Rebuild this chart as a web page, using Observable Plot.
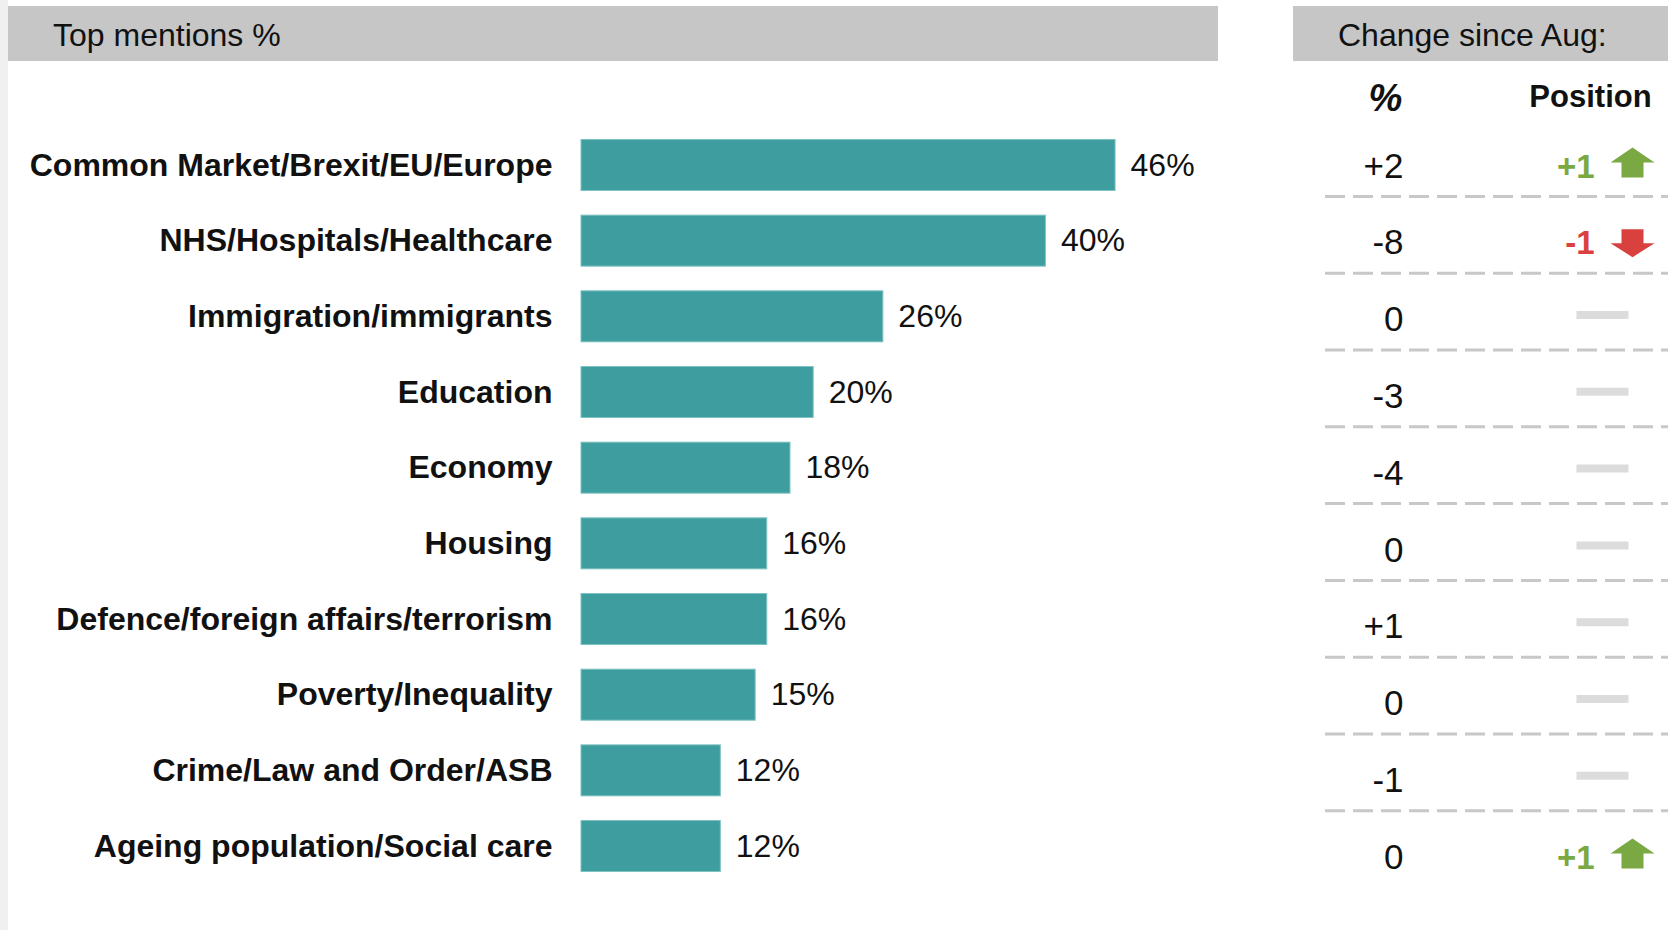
<!DOCTYPE html>
<html><head><meta charset="utf-8">
<script src="https://cdn.jsdelivr.net/npm/d3@7"></script>
<script src="https://cdn.jsdelivr.net/npm/@observablehq/plot@0.6"></script>
<style>
html,body{margin:0;padding:0;background:#fff;}
#wrap{position:relative;width:1668px;height:930px;overflow:hidden;font-family:'Liberation Sans',Arial,Helvetica,sans-serif;color:#111;}
.stripe{position:absolute;left:0;top:0;width:8px;height:930px;background:#f0f0f0;}
.hdr{position:absolute;top:6px;height:55px;line-height:59px;background:#c6c6c6;font-size:32px;color:#111;box-sizing:border-box;padding-left:45px;white-space:nowrap;overflow:hidden;}
#left{position:absolute;left:0;top:0;}
#right{position:absolute;left:1293px;top:0;}
</style></head><body>
<div id="wrap">
  <div class="stripe"></div>
  <div class="hdr" style="left:8px;width:1210px;">Top mentions %</div>
  <div class="hdr" style="left:1293px;width:375px;">Change since Aug:</div>
  <div id="left"></div>
  <div id="right"></div>
</div>
<script>
const categories = [
  "Common Market/Brexit/EU/Europe",
  "NHS/Hospitals/Healthcare",
  "Immigration/immigrants",
  "Education",
  "Economy",
  "Housing",
  "Defence/foreign affairs/terrorism",
  "Poverty/Inequality",
  "Crime/Law and Order/ASB",
  "Ageing population/Social care"
];
const mentions = [46, 40, 26, 20, 18, 16, 16, 15, 12, 12];
const pctChange = [2, -8, 0, -3, -4, 0, 1, 0, -1, 0];
const positionChange = [1, -1, 0, 0, 0, 0, 0, 0, 0, 1];
const columns = ["%", "Position"];

const rows = categories.map((c, i) => ({category: c, value: mentions[i], pct: pctChange[i], pos: positionChange[i]}));
const signed = v => v > 0 ? `+${v}` : `${v}`;

const FONT = "'Liberation Sans', Arial, Helvetica, sans-serif";
const TEAL = "#3e9e9f", GREEN = "#7aa843", RED = "#d9413f", INK = "#111";

const left = Plot.plot({
  width: 1218, height: 930,
  marginLeft: 581, marginRight: 56.5, marginTop: 0, marginBottom: 0,
  style: {fontFamily: FONT, color: INK, background: "transparent", overflow: "visible"},
  x: {domain: [0, 50], axis: null},
  y: {type: "band", domain: categories, range: [114.8, 896.2], padding: 0.326, round: false},
  marks: [
    Plot.barX(rows, {x: "value", y: "category", fill: TEAL, stroke: "#80c2c2", strokeWidth: 1}),
    Plot.text(rows, {x: "value", y: "category", text: d => `${d.value}%`, textAnchor: "start", dx: 15, fontSize: 32, fill: INK}),
    Plot.axisY({tickSize: 0, tickPadding: 29, fontSize: 32, fontWeight: "bold", fill: INK, label: null})
  ]
});
document.getElementById("left").append(left);

const upArrow = {draw(ctx) {
  ctx.moveTo(0, -15); ctx.lineTo(22, 0); ctx.lineTo(11, 0); ctx.lineTo(11, 15);
  ctx.lineTo(-11, 15); ctx.lineTo(-11, 0); ctx.lineTo(-22, 0); ctx.closePath();
}};
const downArrow = {draw(ctx) {
  ctx.moveTo(0, 14); ctx.lineTo(22, 0); ctx.lineTo(11, 0); ctx.lineTo(11, -14);
  ctx.lineTo(-11, -14); ctx.lineTo(-11, 0); ctx.lineTo(-22, 0); ctx.closePath();
}};
const flatBar = {draw(ctx) { ctx.rect(-26, -4, 52, 8); }};

const right = Plot.plot({
  width: 375, height: 930,
  marginLeft: 32, marginRight: 0, marginTop: 0, marginBottom: 0,
  style: {fontFamily: FONT, color: INK, background: "transparent", overflow: "visible"},
  x: {type: "point", domain: columns, range: [92, 297], padding: 0, axis: null},
  y: {type: "band", domain: categories, range: [127.5, 895.5], padding: 0, round: false, axis: null},
  marks: [
    Plot.ruleY(rows.slice(0, 9), {y: "category", stroke: "#c8c8c8", strokeWidth: 3, strokeDasharray: "20,8", dy: 30}),
    Plot.text([columns[0]], {x: d => d, text: d => d, frameAnchor: "top", lineAnchor: "middle", dy: 98, fontSize: 38, fontWeight: "bold", fontStyle: "italic", fill: INK}),
    Plot.text([columns[1]], {x: d => d, text: d => d, frameAnchor: "top", lineAnchor: "middle", dy: 97, fontSize: 31, fontWeight: "bold", fill: INK}),
    Plot.text(rows, {x: () => columns[0], y: "category", text: d => signed(d.pct), textAnchor: "end", dx: 18, fontSize: 35, fill: INK}),
    Plot.text(rows.filter(d => d.pos > 0), {x: () => columns[1], y: "category", text: d => signed(d.pos), textAnchor: "end", dx: 4, dy: 1, fontSize: 33, fontWeight: "bold", fill: GREEN}),
    Plot.text(rows.filter(d => d.pos < 0), {x: () => columns[1], y: "category", text: d => signed(d.pos), textAnchor: "end", dx: 4, dy: 0, fontSize: 33, fontWeight: "bold", fill: RED}),
    Plot.dot(rows.filter(d => d.pos > 0), {x: () => columns[1], y: "category", symbol: upArrow, r: 10, fill: GREEN, stroke: "none", dx: 42, dy: -4}),
    Plot.dot(rows.filter(d => d.pos < 0), {x: () => columns[1], y: "category", symbol: downArrow, r: 10, fill: RED, stroke: "none", dx: 42}),
    Plot.dot(rows.filter(d => d.pos === 0), {x: () => columns[1], y: "category", symbol: flatBar, r: 10, fill: "#dcdcdc", stroke: "none", dx: 12, dy: -5})
  ]
});
document.getElementById("right").append(right);
</script>
</body></html>
